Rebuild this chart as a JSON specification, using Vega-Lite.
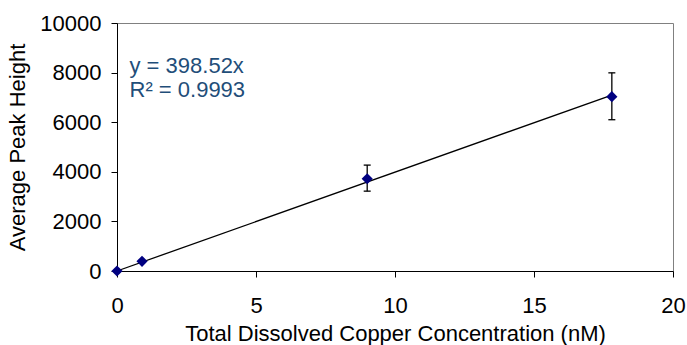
{
  "$schema": "https://vega.github.io/schema/vega-lite/v6.json",
  "width": 556,
  "height": 248,
  "autosize": {"type": "none"},
  "padding": {"left": 117, "top": 23, "right": 14, "bottom": 74},
  "background": "white",
  "config": {
    "font": "Liberation Sans",
    "view": {"stroke": "#808080", "strokeWidth": 1},
    "axis": {
      "grid": false,
      "domainColor": "black",
      "tickColor": "black",
      "tickSize": 6,
      "labelFontSize": 22,
      "labelColor": "black",
      "titleFontSize": 22,
      "titleFontWeight": "normal",
      "titleColor": "black",
      "labelFont": "Liberation Sans",
      "titleFont": "Liberation Sans"
    }
  },
  "datasets": {
    "points": [
      {"conc": 0, "height": 0},
      {"conc": 0.9, "height": 390},
      {"conc": 9.0, "height": 3720},
      {"conc": 17.8, "height": 7030}
    ],
    "errors": [
      {"conc": 9.0, "lo": 3220, "hi": 4270},
      {"conc": 17.8, "lo": 6100, "hi": 7990}
    ],
    "fit": [
      {"conc": 0, "height": 0},
      {"conc": 17.8, "height": 7093.7}
    ],
    "labels": [
      {"conc": 0.45, "height": 8000, "text": "y = 398.52x"},
      {"conc": 0.45, "height": 7000, "text": "R² = 0.9993"}
    ]
  },
  "layer": [
    {
      "data": {"name": "fit"},
      "mark": {"type": "line", "color": "black", "strokeWidth": 1.3},
      "encoding": {
        "x": {
          "field": "conc", "type": "quantitative", "title": "Total Dissolved Copper Concentration (nM)",
          "scale": {"domain": [0, 20], "nice": false},
          "axis": {"values": [0, 5, 10, 15, 20], "format": "d", "labelPadding": 18, "titlePadding": 7, "labelFlush": false}
        },
        "y": {
          "field": "height", "type": "quantitative", "title": "Average Peak Height",
          "scale": {"domain": [0, 10000], "nice": false},
          "axis": {"values": [0, 2000, 4000, 6000, 8000, 10000], "format": "d", "labelPadding": 10, "titlePadding": 10, "labelFlush": false}
        }
      }
    },
    {
      "data": {"name": "errors"},
      "mark": {"type": "errorbar", "color": "black", "opacity": 1, "ticks": {"size": 7, "color": "black", "thickness": 1.3, "opacity": 1}, "rule": {"strokeWidth": 1.3, "color": "black", "opacity": 1}},
      "encoding": {
        "x": {"field": "conc", "type": "quantitative", "title": "Total Dissolved Copper Concentration (nM)"},
        "y": {"field": "lo", "type": "quantitative", "title": "Average Peak Height"},
        "y2": {"field": "hi"}
      }
    },
    {
      "data": {"name": "points"},
      "mark": {"type": "point", "shape": "diamond", "filled": true, "color": "#000080", "size": 125, "opacity": 1},
      "encoding": {
        "x": {"field": "conc", "type": "quantitative", "title": "Total Dissolved Copper Concentration (nM)"},
        "y": {"field": "height", "type": "quantitative", "title": "Average Peak Height"}
      }
    },
    {
      "data": {"name": "labels"},
      "mark": {"type": "text", "align": "left", "baseline": "alphabetic", "fontSize": 22, "color": "#1F4E79", "font": "Liberation Sans"},
      "encoding": {
        "x": {"field": "conc", "type": "quantitative", "title": "Total Dissolved Copper Concentration (nM)"},
        "y": {"field": "height", "type": "quantitative", "title": "Average Peak Height"},
        "text": {"field": "text"}
      }
    }
  ]
}
